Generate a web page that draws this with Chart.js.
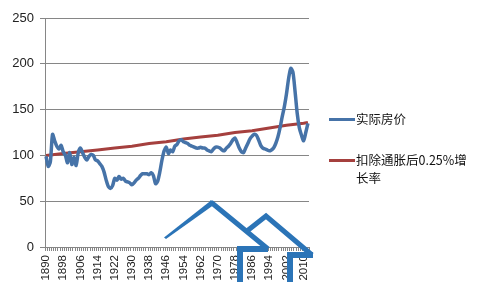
<!DOCTYPE html>
<html>
<head>
<meta charset="utf-8">
<script src="https://cdn.jsdelivr.net/npm/chart.js@4"></script>
<style>
  html, body { margin: 0; padding: 0; background: #fff; }
  #wrap { position: relative; width: 482px; height: 299px; }
  .leg { position: absolute; font-family: 'Noto Sans CJK SC', sans-serif; font-size: 12.5px; color: #111; line-height: 18px; }
  .leg .swatch { position: absolute; left: 0; width: 26px; height: 3px; }
  .leg .txt { position: absolute; left: 27px; top: 0; white-space: nowrap; }
</style>
</head>
<body>
<div id="wrap">
  <canvas id="chart" width="482" height="299"></canvas>
</div>
<script>
// years 1890 - 2012, labelled every 8th
const firstYear = 1890
const lastYear = 2012
const years = []
for (let y = firstYear; y <= lastYear; y++) years.push(String(y))

const seriesNames = ['实际房价', '扣除通胀后0.25%增长率']
const seriesColors = ['#4673a8', '#a5403e']

const realPrice = [
  99, 88, 93, 123, 116, 110, 107, 111, 104, 100,   // 1890-1899
  92, 103, 90, 98, 89, 103, 108, 103, 98, 95,      // 1900-1909
  99, 101, 100, 95, 94, 91, 88, 82, 73, 66,        // 1910-1919
  64, 67, 75, 73, 77, 74, 75, 72, 71, 70,          // 1920-1929
  68, 70, 73, 75, 78, 80, 80, 80, 79, 81,          // 1930-1939
  78, 69, 72, 82, 95, 105, 109, 102, 106, 104,     // 1940-1949
  110, 112, 116, 117, 115, 114, 113, 111, 110, 109,// 1950-1959
  108, 108, 109, 108, 108, 106, 105, 104, 107, 109,// 1960-1969
  109, 108, 106, 105, 108, 110, 113, 117, 119, 114,// 1970-1979
  108, 104, 103, 108, 113, 118, 121, 123, 122, 117,// 1980-1989
  111, 108, 107, 106, 105, 106, 108, 113, 120, 130,// 1990-1999
  142, 153, 167, 184, 195, 191, 170, 146, 130, 122,// 2000-2009
  116, 125, 135                                    // 2010-2012
]

// 0.25% trend line, read at a few years
const trendYears = ['1890', '1898', '1906', '1914', '1922', '1930', '1938', '1946', '1954', '1962', '1970', '1978', '1986', '1994', '2002', '2010', '2012']
const trendValues = [100, 102, 104, 106, 108, 110, 113, 115, 118, 120, 122, 125, 127, 130, 133, 135, 136]

const trendSeries = years.map(y => {
  const i = trendYears.indexOf(y)
  return i >= 0 ? trendValues[i] : null
})

const yTicks = [0, 50, 100, 150, 200, 250]

const gridColor = '#868686'
const tickFont = { family: "'Liberation Sans', Arial, sans-serif", size: 13 }

// blue overlay shapes drawn over the picture (decoration, not data)
const overlayColor = '#2b74b7'
// tapered left arm of the first chevron, as a filled polygon
const overlayTaper = [[164, 237.5], [211, 200.5], [213, 205.5], [166, 239]]
const overlayStrokes = [
  { w: 5, pts: [[210, 203], [212, 203], [268, 249]] },
  { w: 5, pts: [[247, 231], [266, 216], [312, 255]] },
  { w: 6, pts: [[240, 282], [240, 249], [268, 249]] },
  { w: 6, pts: [[290, 282], [290, 255], [313, 255]] }
]

const overlayPlugin = {
  id: 'overlay',
  afterDraw(chart) {
    const ctx = chart.ctx
    ctx.save()
    ctx.strokeStyle = overlayColor
    ctx.fillStyle = overlayColor
    ctx.beginPath()
    overlayTaper.forEach((p, i) => i ? ctx.lineTo(p[0], p[1]) : ctx.moveTo(p[0], p[1]))
    ctx.closePath()
    ctx.fill()
    ctx.lineJoin = 'miter'
    ctx.lineCap = 'butt'
    overlayStrokes.forEach(s => {
      ctx.lineWidth = s.w
      ctx.beginPath()
      s.pts.forEach((p, i) => i ? ctx.lineTo(p[0], p[1]) : ctx.moveTo(p[0], p[1]))
      ctx.stroke()
    })
    ctx.restore()
  }
}

const ctx = document.getElementById('chart').getContext('2d')

const chart = new Chart(ctx, {
  type: 'line',
  data: {
    labels: years,
    datasets: [{
      label: seriesNames[0],
      data: realPrice,
      borderColor: seriesColors[0],
      borderWidth: 3.5,
      pointRadius: 0,
      tension: 0.25,
      fill: false
    }, {
      label: seriesNames[1],
      data: trendSeries,
      borderColor: seriesColors[1],
      borderWidth: 3,
      pointRadius: 0,
      spanGaps: true,
      tension: 0,
      fill: false
    }]
  },
  options: {
    responsive: false,
    animation: false,
    devicePixelRatio: 1,
    layout: {
      padding: { left: 5, right: 173, top: 18, bottom: 0 }
    },
    scales: {
      x: {
        type: 'category',
        offset: true,
        grid: {
          display: true,
          drawOnChartArea: false,
          drawTicks: true,
          tickLength: 4,
          color: gridColor,
          offset: true
        },
        border: { color: gridColor, width: 1 },
        ticks: {
          autoSkip: false,
          minRotation: 90,
          maxRotation: 90,
          padding: 4,
          color: '#222',
          font: { family: "'Liberation Sans', Arial, sans-serif", size: 11.5 },
          callback: function (val, index) {
            return index % 8 === 0 ? years[index] : ''
          }
        },
        afterFit: s => { s.height = 52 }
      },
      y: {
        min: 0,
        max: 250,
        afterBuildTicks: s => { s.ticks = yTicks.map(v => ({ value: v })) },
        grid: {
          color: gridColor,
          tickLength: 5,
          lineWidth: 1
        },
        border: { color: gridColor, width: 1 },
        ticks: {
          padding: 6,
          color: '#222',
          font: tickFont
        },
        afterFit: s => { s.width = 40 }
      }
    },
    plugins: {
      legend: { display: false },
      tooltip: { enabled: false }
    }
  },
  plugins: [overlayPlugin]
})

// legend on the right, second label wraps like the original
const wrap = document.getElementById('wrap')
const legendRows = [
  { top: 110, lines: [seriesNames[0]] },
  { top: 151, lines: ['扣除通胀后0.25%增', '长率'] }
]
legendRows.forEach((row, i) => {
  const d = document.createElement('div')
  d.className = 'leg'
  d.style.left = '329px'
  d.style.top = row.top + 'px'
  d.innerHTML = '<div class="swatch" style="top:8px;background:' + seriesColors[i] + '"></div>' +
    '<div class="txt">' + row.lines.join('<br>') + '</div>'
  wrap.appendChild(d)
})
</script>
</body>
</html>
